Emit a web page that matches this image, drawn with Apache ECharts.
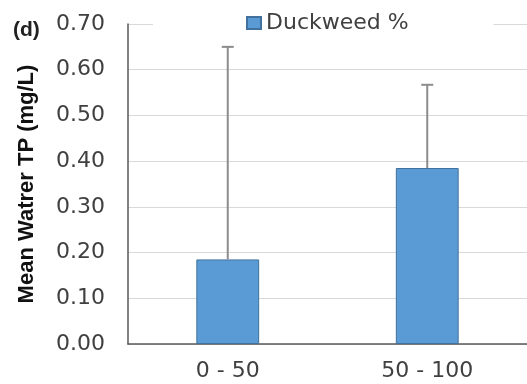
<!DOCTYPE html>
<html>
<head>
<meta charset="utf-8">
<script src="https://cdn.jsdelivr.net/npm/echarts@6/dist/echarts.min.js"></script>
<style>
  html, body { margin: 0; padding: 0; background: #fff; }
  #chart { width: 527px; height: 384px; }
</style>
</head>
<body>
<div id="chart"></div>
<script>
// Duckweed cover classes and mean water TP with upper error bars
const categories = ['0 - 50', '50 - 100'];
const meanTP = [0.185, 0.385];
const errUpper = [0.465, 0.182];
const seriesName = 'Duckweed %';
const yTicks = [0, 0.1, 0.2, 0.3, 0.4, 0.5, 0.6, 0.7];

const chart = echarts.init(document.getElementById('chart'), null, { renderer: 'canvas' });

const errData = categories.map((c, i) => [i, meanTP[i], meanTP[i] + errUpper[i]]);

chart.setOption({
  animation: false,
  backgroundColor: '#fff',
  grid: { left: 128, right: -7, top: 24, bottom: 40 },
  legend: {
    data: [{ name: seriesName, icon: 'rect' }],
    left: 153,
    top: 10,
    padding: [2, 85, 2, 93],
    backgroundColor: '#fff',
    itemWidth: 14,
    itemHeight: 12,
    itemGap: 6,
    textStyle: { fontFamily: 'DejaVu Sans', fontSize: 22, color: '#404040' }
  },
  graphic: [{
    type: 'text',
    left: 13,
    top: 20,
    style: { text: '(d)', font: 'bold 21px "Liberation Sans"', fill: '#222' }
  }],
  xAxis: {
    type: 'category',
    data: categories,
    axisLine: { lineStyle: { color: '#595959', width: 1.5 } },
    axisTick: { show: false },
    axisLabel: { fontFamily: 'DejaVu Sans', fontSize: 22, color: '#404040', margin: 16 }
  },
  yAxis: {
    type: 'value',
    min: yTicks[0],
    max: yTicks[yTicks.length - 1],
    interval: 0.1,
    name: 'Mean Watrer TP (mg/L)',
    nameLocation: 'middle',
    nameGap: 90,
    nameTextStyle: { fontFamily: 'Liberation Sans', fontWeight: 'bold', fontSize: 22, color: '#111' },
    axisLine: { show: true, lineStyle: { color: '#595959', width: 1.5 } },
    axisTick: { show: false },
    axisLabel: {
      fontFamily: 'DejaVu Sans', fontSize: 22, color: '#404040', margin: 23,
      formatter: v => v.toFixed(2)
    },
    splitLine: { lineStyle: { color: '#d9d9d9', width: 1 } }
  },
  series: [
    {
      name: seriesName,
      type: 'bar',
      data: meanTP,
      barWidth: '31.5%',
      itemStyle: { color: '#5B9BD5', borderColor: '#41719C', borderWidth: 1 },
      z: 2
    },
    {
      name: 'error',
      type: 'custom',
      data: errData,
      z: 3,
      renderItem: (params, api) => {
        const x = api.value(0);
        const lo = api.coord([x, api.value(1)]);
        const hi = api.coord([x, api.value(2)]);
        const half = 6;
        const style = { stroke: '#8c8c8c', lineWidth: 2 };
        return {
          type: 'group',
          children: [
            { type: 'line', shape: { x1: lo[0], y1: lo[1], x2: hi[0], y2: hi[1] }, style },
            { type: 'line', shape: { x1: hi[0] - half, y1: hi[1], x2: hi[0] + half, y2: hi[1] }, style }
          ]
        };
      }
    }
  ]
});
</script>
</body>
</html>
